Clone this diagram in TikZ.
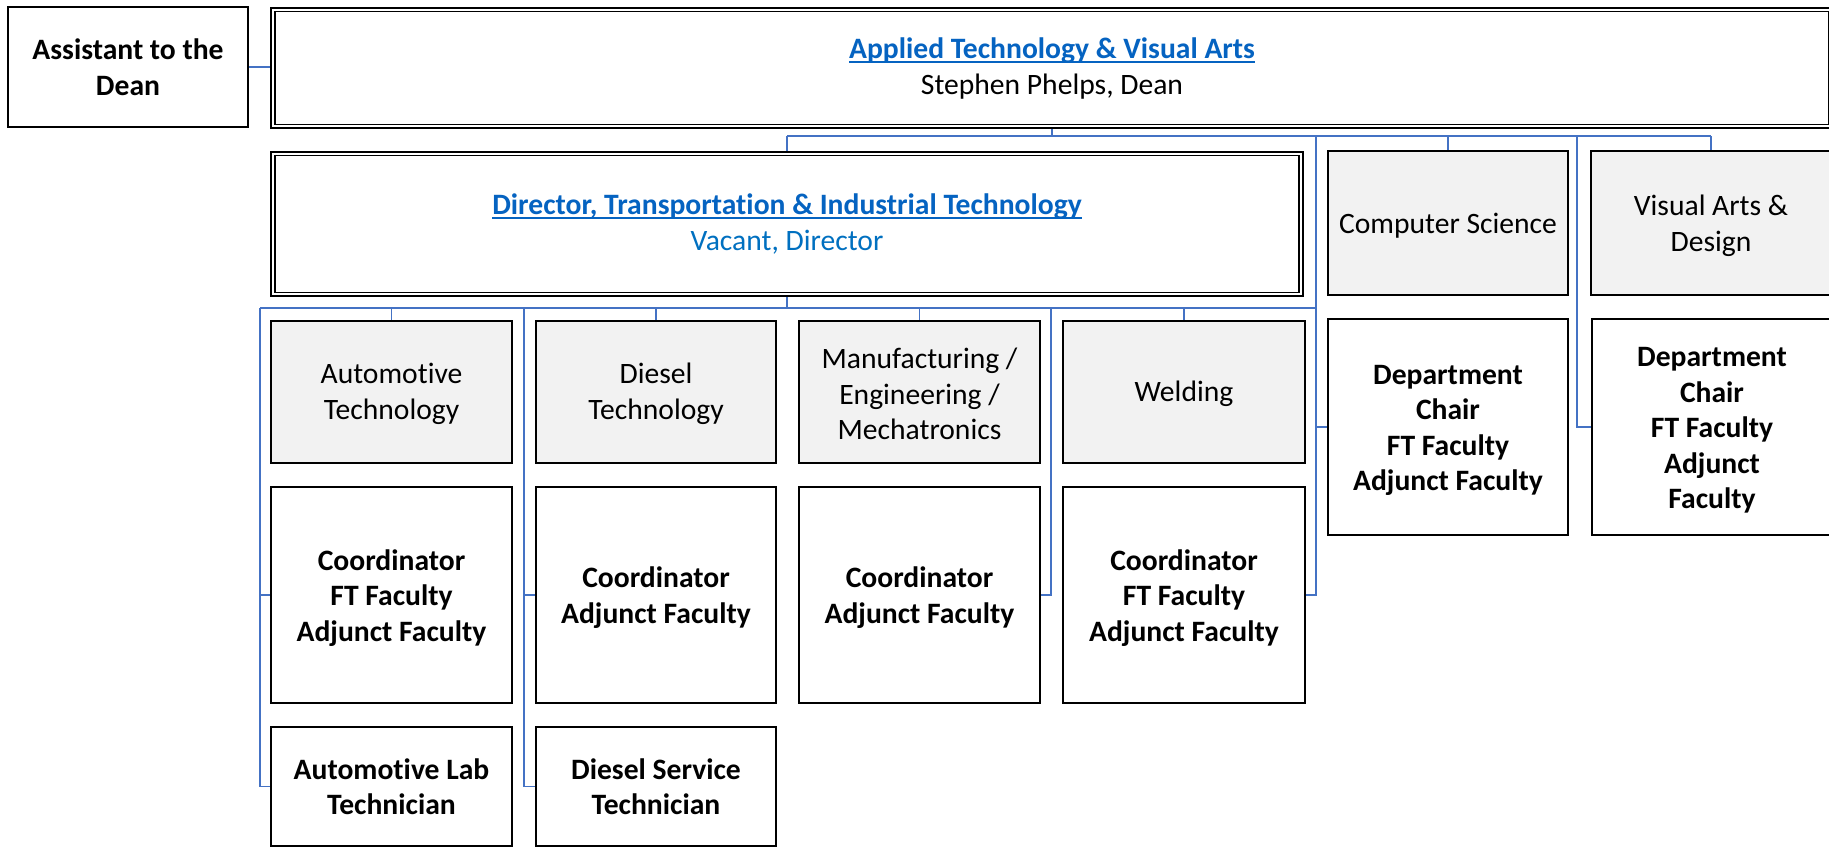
\documentclass[tikz,border=0pt]{standalone}
\usepackage{fontspec}
\setmainfont[Ligatures={NoCommon}]{Carlito}
\usetikzlibrary{calc}
\definecolor{linkblue}{HTML}{0563C1}
\definecolor{vacblue}{HTML}{0070C0}
\definecolor{connblue}{HTML}{4472C4}
\definecolor{boxgray}{HTML}{F2F2F2}
\newcommand\myul[1]{\leavevmode\setbox0\hbox{#1}\rlap{\color{linkblue}\rule[-4.5pt]{\wd0}{1.6pt}}\box0}
\newcommand\topstrut{\rule{0pt}{26pt}}
\newcommand\graystrut{\rule{0pt}{24.5pt}}
\tikzset{
  basebox/.style={draw=black, line width=2.2pt, inner sep=0pt, align=center,
    font=\fontsize{29.6}{35.5}\selectfont},
  graybox/.style={basebox, fill=boxgray},
  plainbold/.style={basebox, fill=white, font=\fontsize{29.6}{35.5}\selectfont\bfseries},
  whitebox/.style={plainbold},
  dblbox/.style={draw=black, line width=2.6pt, inner sep=0pt, align=center, fill=white,
    font=\fontsize{29.6}{36}\selectfont},
  innerframe/.style={draw=black, line width=1.5pt},
  conn/.style={draw=connblue, line width=1.8pt}
}
\begin{document}
\begin{tikzpicture}[x=1pt,y=-1pt]
\useasboundingbox (0,0) rectangle (1829,847);
% top level
\node[plainbold, minimum width=240pt, minimum height=120pt] (asst) at (128,67) {Assistant to the\\Dean};
\node[dblbox, minimum width=1562pt, minimum height=120pt] (dean) at (1052,68)
  {\textbf{\color{linkblue}\myul{Applied Technology \& Visual Arts}}\\Stephen Phelps, Dean};
\draw[innerframe] ($(dean.north west)+(5.5,5)$) rectangle ($(dean.south east)+(-5.5,-5)$);
% second level
\node[dblbox, minimum width=1032pt, minimum height=144pt] (dir) at (787,224)
  {\textbf{\color{linkblue}\myul{Director, Transportation \& Industrial Technology}}\\{\color{vacblue}Vacant, Director}};
\draw[innerframe] ($(dir.north west)+(5.5,5)$) rectangle ($(dir.south east)+(-5.5,-5)$);
\node[graybox, minimum width=240pt, minimum height=144pt, execute at begin node={\topstrut}] (cs) at (1448,223) {Computer Science};
\node[graybox, minimum width=240pt, minimum height=144pt] (va) at (1711,223) {\topstrut Visual Arts \&\\Design};
% third level
\node[graybox, minimum width=241pt, minimum height=142pt] (auto) at (391.5,392) {\graystrut Automotive\\Technology};
\node[graybox, minimum width=240pt, minimum height=142pt] (dsl) at (656,392) {\graystrut Diesel\\Technology};
\node[graybox, minimum width=241pt, minimum height=142pt] (mfg) at (919.5,392) {\graystrut Manufacturing /\\Engineering /\\Mechatronics};
\node[graybox, minimum width=242pt, minimum height=142pt, execute at begin node={\graystrut}] (weld) at (1184,392) {Welding};
\node[whitebox, minimum width=240pt, minimum height=216pt] (csdept) at (1448,427) {\topstrut Department\\Chair\\FT Faculty\\Adjunct Faculty};
\node[whitebox, minimum width=240pt, minimum height=216pt] (vadept) at (1712,427) {\topstrut Department\\Chair\\FT Faculty\\Adjunct\\Faculty};
% coordinators
\node[whitebox, minimum width=241pt, minimum height=216pt] (autoc) at (391.5,595) {\topstrut Coordinator\\FT Faculty\\Adjunct Faculty};
\node[whitebox, minimum width=240pt, minimum height=216pt] (dslc) at (656,595) {\topstrut Coordinator\\Adjunct Faculty};
\node[whitebox, minimum width=241pt, minimum height=216pt] (mfgc) at (919.5,595) {\topstrut Coordinator\\Adjunct Faculty};
\node[whitebox, minimum width=242pt, minimum height=216pt] (weldc) at (1184,595) {\topstrut Coordinator\\FT Faculty\\Adjunct Faculty};
% technicians
\node[whitebox, minimum width=241pt, minimum height=119pt] (autot) at (391.5,786.5) {Automotive Lab\\Technician};
\node[whitebox, minimum width=240pt, minimum height=119pt] (dslt) at (656,786.5) {Diesel Service\\Technician};
% connectors from dean
\coordinate (deanbus) at (1052,136);
\coordinate (csline) at (1316,136);
\coordinate (valine) at (1577,136);
\draw[conn] (asst.east) -- (asst.east -| dean.west);
\draw[conn] (dean.south) -- (deanbus);
\draw[conn] (deanbus -| dir.north) -- (deanbus -| va.north);
\draw[conn] (deanbus -| dir.north) -- (dir.north);
\draw[conn] (deanbus -| cs.north) -- (cs.north);
\draw[conn] (deanbus -| va.north) -- (va.north);
\draw[conn] (csline) |- (csdept.west);
\draw[conn] (valine) |- (vadept.west);
% connectors from director
\coordinate (dirbus) at (787,308);
\coordinate (lineA) at (260,308);
\coordinate (lineB) at (524,308);
\coordinate (lineC) at (1051,308);
\coordinate (lineD) at (1316,308);
\draw[conn] (dir.south) -- (dirbus);
\draw[conn] (lineA) -- (lineD);
\draw[conn] (dirbus -| auto.north) -- (auto.north);
\draw[conn] (dirbus -| dsl.north) -- (dsl.north);
\draw[conn] (dirbus -| mfg.north) -- (mfg.north);
\draw[conn] (dirbus -| weld.north) -- (weld.north);
\draw[conn] (lineA) |- (autot.west);
\draw[conn] (lineA |- autoc.west) -- (autoc.west);
\draw[conn] (lineB) |- (dslt.west);
\draw[conn] (lineB |- dslc.west) -- (dslc.west);
\draw[conn] (lineC) |- (mfgc.east);
\draw[conn] (lineD) |- (weldc.east);
\end{tikzpicture}
\end{document}
